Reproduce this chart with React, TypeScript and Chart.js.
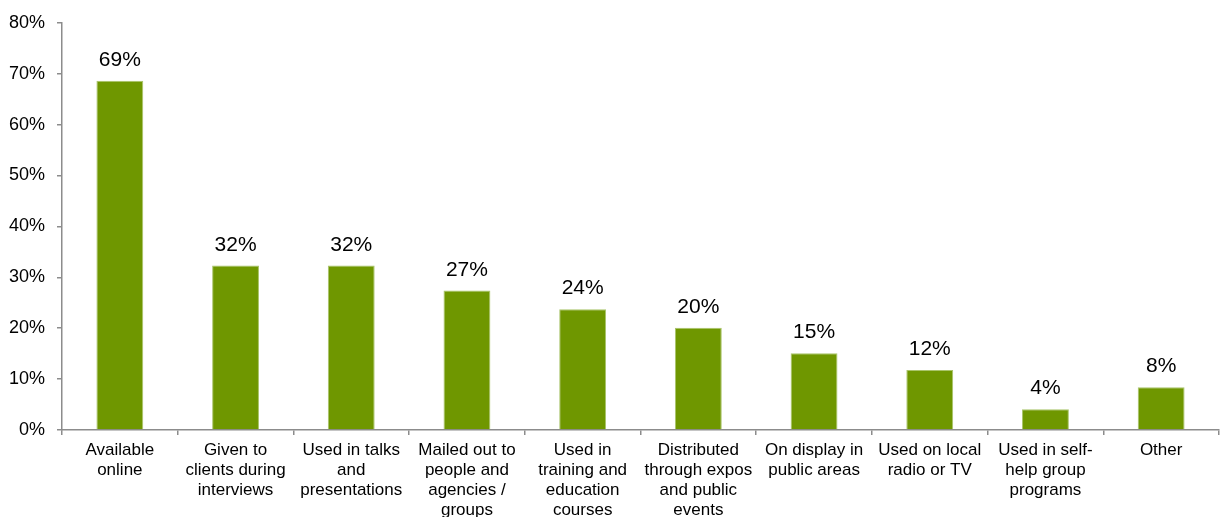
import React, { useEffect, useRef } from "react";
import { Chart, registerables } from "chart.js";

Chart.register(...registerables);

const categories: string[][] = [
  ["Available", "online"],
  ["Given to", "clients during", "interviews"],
  ["Used in talks", "and", "presentations"],
  ["Mailed out to", "people and", "agencies /", "groups"],
  ["Used in", "training and", "education", "courses"],
  ["Distributed", "through expos", "and public", "events"],
  ["On display in", "public areas"],
  ["Used on local", "radio or TV"],
  ["Used in self-", "help group", "programs"],
  ["Other"],
];

const values: number[] = [68.6, 32.3, 32.3, 27.4, 23.7, 20.1, 15.1, 11.8, 4.1, 8.4];

const barColor = "#6f9700";
const barEdge = "#a9c46a";
const axisColor = "#8c8c8c";
const fontFamily = "'Liberation Sans', Arial, sans-serif";

const dataLabelPlugin = {
  id: "dataLabels",
  afterDatasetsDraw(chart: any) {
    const ctx = chart.ctx;
    const meta = chart.getDatasetMeta(0);
    ctx.save();
    ctx.font = `21px ${fontFamily}`;
    ctx.fillStyle = "#000";
    ctx.textAlign = "center";
    ctx.textBaseline = "alphabetic";
    meta.data.forEach((bar: any, i: number) => {
      const v = values[i];
      ctx.fillText(`${Math.round(v)}%`, bar.x, bar.y - 15);
    });
    ctx.restore();
  },
};

export default function App() {
  const ref = useRef<HTMLCanvasElement>(null);
  useEffect(() => {
    document.body.style.margin = "0";
    const canvas = ref.current!;
    const chart = new Chart(canvas, {
      type: "bar",
      data: {
        labels: categories,
        datasets: [
          {
            data: values,
            backgroundColor: barColor,
            borderColor: barEdge,
            borderWidth: 1,
            categoryPercentage: 1,
            barPercentage: 0.405,
          },
        ],
      },
      options: {
        responsive: false,
        animation: false,
        devicePixelRatio: 1,
        layout: { padding: { top: 20, right: 3, left: 0, bottom: 0 } },
        plugins: {
          legend: { display: false },
          tooltip: { enabled: false },
        },
        scales: {
          x: {
            grid: {
              offset: true,
              drawOnChartArea: false,
              drawTicks: true,
              tickLength: 5,
              color: axisColor,
              lineWidth: 1.5,
            },
            border: { color: axisColor, width: 1.5 },
            ticks: {
              color: "#000",
              font: { family: fontFamily, size: 17, lineHeight: "20px" },
              padding: 5,
              maxRotation: 0,
              autoSkip: false,
            },
            afterFit(scale: any) {
              scale.height = 87;
            },
          },
          y: {
            min: 0,
            max: 80,
            grid: {
              drawOnChartArea: false,
              drawTicks: true,
              tickLength: 5,
              color: axisColor,
              lineWidth: 1.5,
            },
            border: { color: axisColor, width: 1.5 },
            ticks: {
              stepSize: 10,
              color: "#000",
              font: { family: fontFamily, size: 18 },
              padding: 12,
              callback: (v: any) => `${v}%`,
            },
            afterFit(scale: any) {
              scale.width = 62;
            },
          },
        },
      },
      plugins: [dataLabelPlugin],
    });
    return () => chart.destroy();
  }, []);
  return <canvas ref={ref} width={1222} height={517} style={{ display: "block" }} />;
}
